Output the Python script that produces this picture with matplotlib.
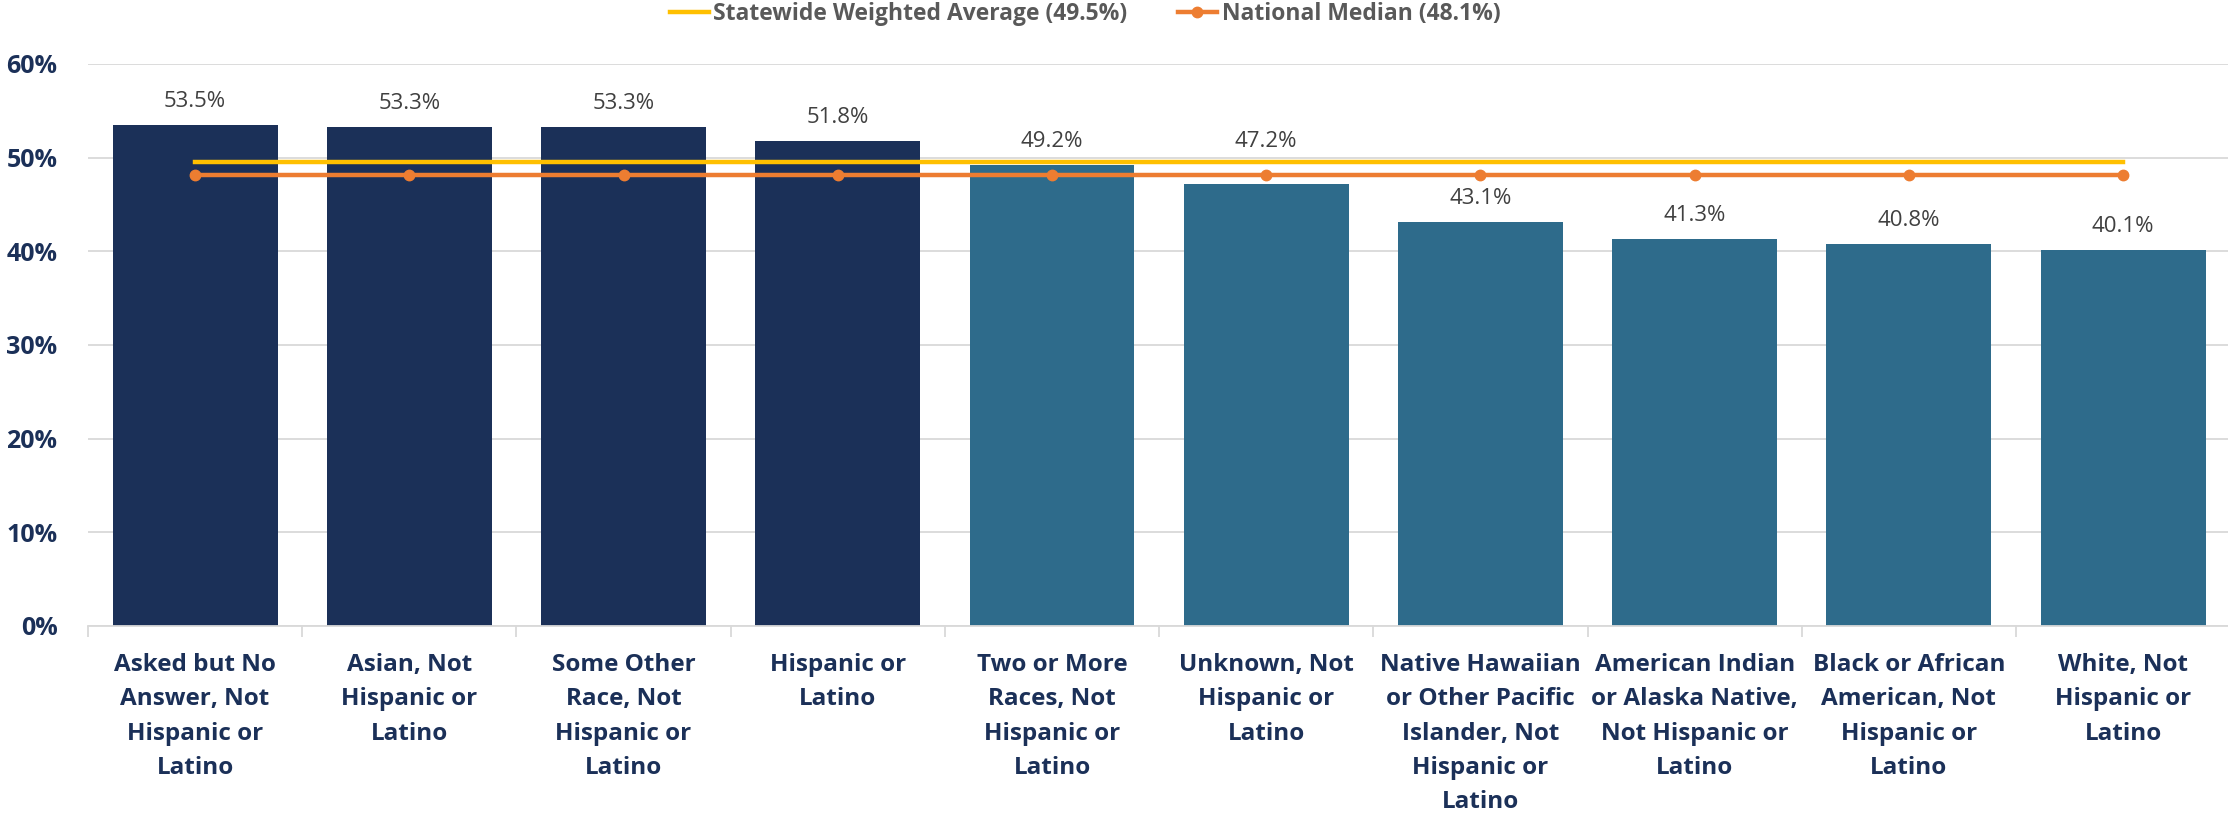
import matplotlib.pyplot as plt
import numpy as np

categories = [
    "Asked but No\nAnswer, Not\nHispanic or\nLatino",
    "Asian, Not\nHispanic or\nLatino",
    "Some Other\nRace, Not\nHispanic or\nLatino",
    "Hispanic or\nLatino",
    "Two or More\nRaces, Not\nHispanic or\nLatino",
    "Unknown, Not\nHispanic or\nLatino",
    "Native Hawaiian\nor Other Pacific\nIslander, Not\nHispanic or\nLatino",
    "American Indian\nor Alaska Native,\nNot Hispanic or\nLatino",
    "Black or African\nAmerican, Not\nHispanic or\nLatino",
    "White, Not\nHispanic or\nLatino",
]
values = [53.5, 53.3, 53.3, 51.8, 49.2, 47.2, 43.1, 41.3, 40.8, 40.1]
statewide = 49.5
national = 48.1

navy = "#1b3058"
teal = "#2e6b8b"
colors = [navy if v > statewide else teal for v in values]

plt.rcParams['font.family'] = ['Open Sans', 'DejaVu Sans']

fig = plt.figure(figsize=(22.28, 8.14), dpi=100)
ax = fig.add_axes([0.0395, 0.231, 0.9615, 0.6904])

x = np.arange(len(values))
bars = ax.bar(x, values, width=0.77, color=colors, zorder=2)

# value labels; ones that would sit on the reference lines get lifted above them
off = 2.5
for xi, v in zip(x, values):
    y = v + off
    if national - 2.5 < v < statewide:
        y = statewide - 0.3 + off
    ax.text(xi, y, f"{v:.1f}%", ha="center", va="center",
            fontsize=16, color="#404040", zorder=4)

ax.plot(x, [statewide] * len(x), color="#ffc000", lw=3.2, zorder=3,
        label=f"Statewide Weighted Average ({statewide}%)")
ax.plot(x, [national] * len(x), color="#ed7d31", lw=3.2, marker="o",
        markersize=7.5, zorder=3, label=f"National Median ({national}%)")

ax.set_xlim(-0.5, len(values) - 0.5)
ax.set_ylim(0, 60)
ax.set_yticks(np.arange(0, 61, 10))
ax.set_yticklabels([f"{t}%" for t in range(0, 61, 10)])
ax.grid(axis="y", color="#d9d9d9", lw=1.3, zorder=0)

ax.set_xticks(x)
ax.set_xticklabels(categories, fontsize=17.5, fontweight="bold", color=navy,
                   linespacing=1.57)
ax.set_xticks(np.arange(-0.5, len(values), 1), minor=True)
ax.tick_params(axis="x", which="major", length=0, pad=19.5)
ax.tick_params(axis="x", which="minor", length=8, color="#d9d9d9", width=1.3)
ax.tick_params(axis="y", length=0, pad=22, labelsize=18, labelcolor=navy)
for lab in ax.get_yticklabels():
    lab.set_fontweight("bold")

for s in ["top", "right", "left"]:
    ax.spines[s].set_visible(False)
ax.spines["bottom"].set_color("#d9d9d9")
ax.spines["bottom"].set_linewidth(1.3)

leg = fig.legend(loc="center", bbox_to_anchor=(0.487, 0.983), ncol=2,
                 frameon=False, handlelength=1.7, columnspacing=2.2,
                 handletextpad=0.2,
                 prop={"size": 16.5, "weight": "bold"})
for t in leg.get_texts():
    t.set_color("#595959")

fig.savefig("out.png", dpi=100)
